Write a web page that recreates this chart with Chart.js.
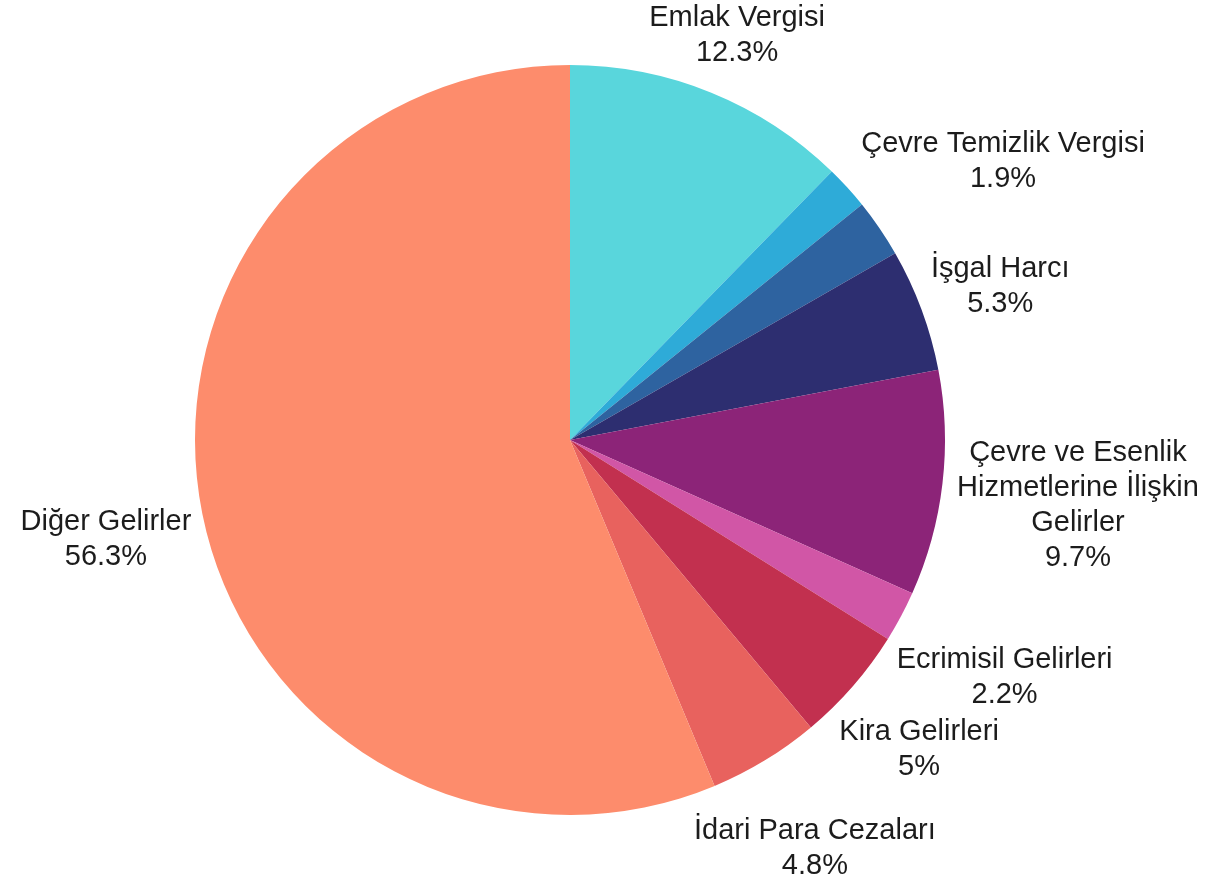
<!DOCTYPE html>
<html>
<head>
<meta charset="utf-8">
<script src="https://cdn.jsdelivr.net/npm/chart.js@4.4.1/dist/chart.umd.min.js"></script>
<style>
  html, body { margin: 0; padding: 0; background: #ffffff; }
  #wrap { position: relative; width: 1219px; height: 877px; }
</style>
</head>
<body>
<div id="wrap"><canvas id="c" width="1219" height="877"></canvas></div>
<script>
// ---- data ----
const categories = [
  'Emlak Vergisi',
  'Çevre Temizlik Vergisi',
  '',
  'İşgal Harcı',
  'Çevre ve Esenlik\nHizmetlerine İlişkin\nGelirler',
  'Ecrimisil Gelirleri',
  'Kira Gelirleri',
  'İdari Para Cezaları',
  'Diğer Gelirler'
];
const shares = [12.3, 1.9, 2.5, 5.3, 9.7, 2.2, 5, 4.8, 56.3];
const sliceColors = [
  '#59d6dc', '#2eabd8', '#2e63a0', '#2d2e70', '#8c2478',
  '#d156a6', '#c2304f', '#e8625e', '#fd8c6c'
];

// ---- outside label plugin ----
const outsideLabels = {
  id: 'outsideLabels',
  afterDatasetsDraw(chart, args, opts) {
    const ctx = chart.ctx;
    const meta = chart.getDatasetMeta(0);
    const ds = chart.data.datasets[0];
    ctx.save();
    ctx.font = opts.fontSize + 'px ' + opts.fontFamily;
    ctx.fillStyle = opts.color;
    ctx.textAlign = 'center';
    ctx.textBaseline = 'middle';
    meta.data.forEach((arc, i) => {
      const name = chart.data.labels[i];
      if (!name) return;
      const p = arc.getProps(['x', 'y', 'startAngle', 'endAngle', 'outerRadius'], true);
      const shift = (opts.angleShift[i] || 0) * Math.PI / 180;
      const mid = (p.startAngle + p.endAngle) / 2 + shift;
      const lines = name.split('\n').concat([ds.data[i] + '%']);
      let w = 0;
      lines.forEach(l => { w = Math.max(w, ctx.measureText(l).width); });
      const h = lines.length * opts.lineHeight - (opts.lineHeight - opts.fontSize * 0.75);
      const cx = Math.cos(mid), cy = Math.sin(mid);
      const ext = Math.abs(cx) * w / 2 + Math.abs(cy) * h / 2;
      const r = p.outerRadius + opts.gap + ext;
      const x = p.x + cx * r;
      const y = p.y + cy * r + opts.yOffset;
      const top = y - (lines.length - 1) * opts.lineHeight / 2;
      lines.forEach((l, k) => ctx.fillText(l, x, top + k * opts.lineHeight));
    });
    ctx.restore();
  }
};

new Chart(document.getElementById('c'), {
  type: 'pie',
  data: {
    labels: categories,
    datasets: [{
      data: shares,
      backgroundColor: sliceColors,
      borderWidth: 0
    }]
  },
  plugins: [outsideLabels],
  options: {
    responsive: false,
    animation: false,
    layout: { padding: { top: 65, bottom: 62, left: 195, right: 274 } },
    plugins: {
      legend: { display: false },
      tooltip: { enabled: false },
      outsideLabels: {
        fontSize: 29,
        fontFamily: '"Liberation Sans", Arial, sans-serif',
        lineHeight: 35,
        color: '#1c1c1c',
        gap: 9,
        yOffset: 6,
        angleShift: { 1: 9 }
      }
    }
  }
});
</script>
</body>
</html>
